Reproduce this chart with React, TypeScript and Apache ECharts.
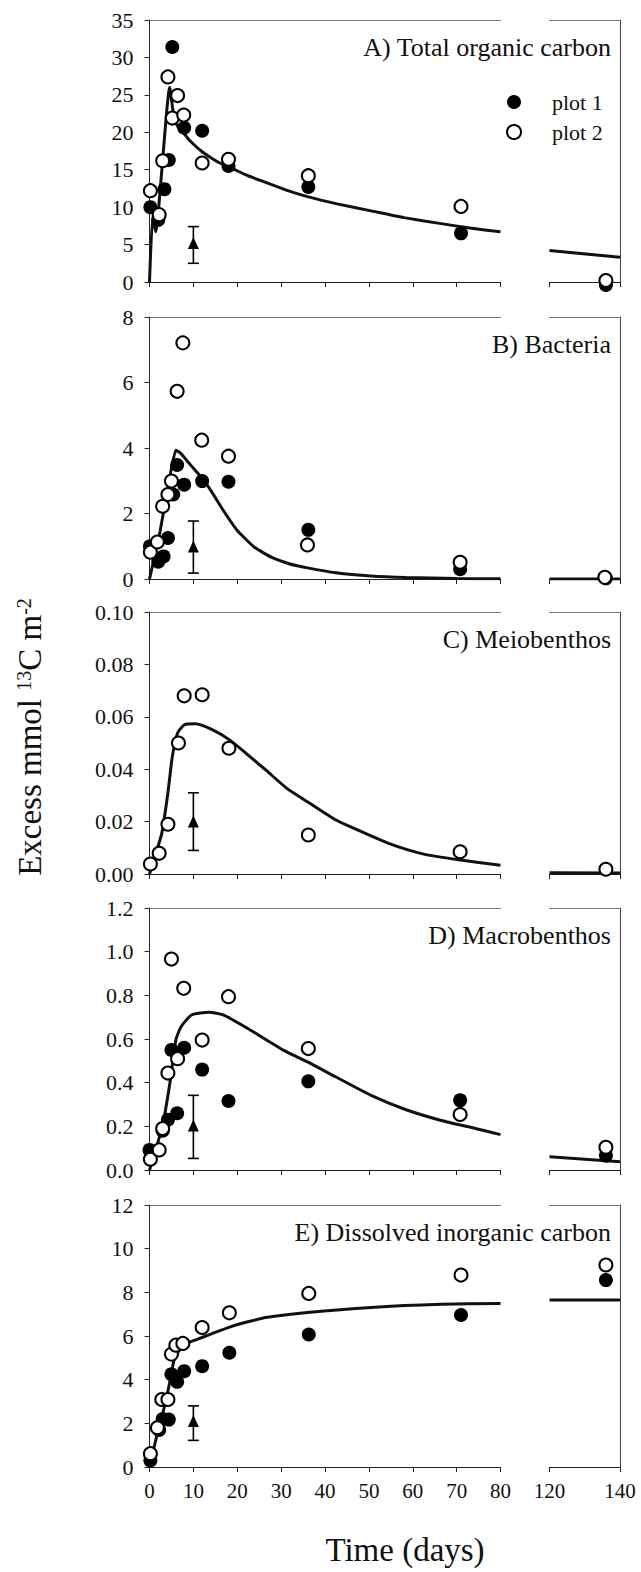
import React, { useEffect, useRef } from "react";
import * as echarts from "echarts";

const FONT = '"Liberation Serif", "Times New Roman", serif';
type Pt = [number, number];

// ---- A) Total organic carbon ----
const tocPlot1: Pt[] = [[0.2, 10.0], [2.0, 8.3], [3.4, 12.4], [4.4, 16.3], [5.2, 31.4], [7.9, 20.6], [12, 20.2], [18, 15.5], [36.2, 12.7], [71, 6.5], [136, -0.4]];
const tocPlot2: Pt[] = [[0.2, 12.2], [2.2, 9.0], [3.0, 16.2], [4.2, 27.4], [5.2, 21.9], [6.4, 24.9], [7.8, 22.3], [12, 15.9], [18, 16.4], [36.2, 14.2], [71, 10.1], [136, 0.2]];
const tocModel: Pt[] = [[0, 0], [0.7, 8.7], [1.4, 6.7], [4.6, 26.0], [5.6, 21.9], [6.5, 20.7], [7.9, 19.8], [9, 19.0], [10.4, 18.2], [12, 17.4], [14, 16.6], [16, 15.9], [18.4, 15.3], [22, 14.3], [26.5, 13.3], [31, 12.3], [36, 11.4], [43, 10.4], [50.5, 9.5], [58, 8.6], [66.5, 7.8], [73, 7.2], [80, 6.7]];
const tocModelLate: Pt[] = [[120, 4.2], [140, 3.3]];
const tocMean = [10, 5.2, 2.5, 7.4]; // day, mean, low, high

// ---- B) Bacteria ----
const bactPlot1: Pt[] = [[0.1, 1.0], [2.0, 0.53], [3.2, 0.69], [4.2, 1.25], [5.4, 2.58], [6.3, 3.48], [7.9, 2.88], [12, 2.99], [18, 2.97], [36.2, 1.5], [70.8, 0.3], [136, 0.02]];
const bactPlot2: Pt[] = [[0.2, 0.82], [1.8, 1.13], [3.0, 2.22], [4.2, 2.58], [5.0, 2.99], [6.3, 5.73], [7.6, 7.21], [11.9, 4.24], [18, 3.75], [36, 1.04], [70.8, 0.51], [135.7, 0.05]];
const bactModel: Pt[] = [[0, 0], [2.4, 1.45], [4.8, 3.24], [6.0, 3.93], [7, 3.85], [8.5, 3.62], [10.4, 3.32], [12, 3.08], [14, 2.7], [16.8, 2.1], [20, 1.48], [24, 0.96], [28, 0.65], [32, 0.46], [36, 0.34], [42.5, 0.19], [50.5, 0.09], [58.5, 0.045], [70, 0.015], [80, 0.005]];
const bactModelLate: Pt[] = [[120, 0.0], [140, 0.0]];
const bactMean = [10, 0.99, 0.18, 1.77];

// ---- C) Meiobenthos ----
const meioPlot1: Pt[] = [];
const meioPlot2: Pt[] = [[0.2, 0.0038], [2.2, 0.0079], [4.2, 0.019], [6.6, 0.05], [7.9, 0.068], [12, 0.0684], [18.1, 0.048], [36.2, 0.0149], [70.8, 0.0085], [136, 0.0018]];
const meioModel: Pt[] = [[0, 0], [1.2, 0.0066], [2.8, 0.0155], [4.2, 0.031], [5.2, 0.0448], [6.4, 0.0538], [8, 0.057], [10.4, 0.0573], [14.4, 0.055], [18.4, 0.051], [22.4, 0.0455], [26.5, 0.0397], [31.3, 0.0327], [36, 0.0276], [42.5, 0.0206], [46.5, 0.0175], [54.5, 0.0117], [62.5, 0.0076], [70.5, 0.0054], [80, 0.0033]];
const meioModelLate: Pt[] = [[120, 0.0005], [140, 0.0004]];
const meioMean = [10, 0.02, 0.009, 0.031];

// ---- D) Macrobenthos ----
const macroPlot1: Pt[] = [[0, 0.092], [3.0, 0.18], [4.2, 0.23], [5.0, 0.55], [6.3, 0.26], [7.9, 0.56], [12, 0.46], [18, 0.316], [36.2, 0.406], [70.8, 0.319], [136, 0.066]];
const macroPlot2: Pt[] = [[0.2, 0.049], [2.2, 0.092], [3.0, 0.19], [4.2, 0.444], [5.0, 0.966], [6.4, 0.51], [7.8, 0.832], [12, 0.595], [18, 0.794], [36.2, 0.556], [70.8, 0.254], [136, 0.104]];
const macroModel: Pt[] = [[0, 0], [1.6, 0.104], [3.2, 0.227], [4.8, 0.418], [6, 0.595], [7.2, 0.656], [9.6, 0.71], [13.6, 0.722], [16.8, 0.71], [22.4, 0.648], [30.5, 0.549], [36, 0.495], [42.5, 0.426], [50.5, 0.342], [58.5, 0.276], [66.5, 0.227], [74.5, 0.189], [80, 0.162]];
const macroModelLate: Pt[] = [[120, 0.061], [140, 0.038]];
const macroMean = [10, 0.204, 0.053, 0.342];

// ---- E) Dissolved inorganic carbon ----
const dicPlot1: Pt[] = [[0.2, 0.3], [2.2, 1.7], [3.0, 2.2], [4.4, 2.17], [5.0, 4.25], [6.3, 3.9], [7.9, 4.39], [12, 4.62], [18.2, 5.23], [36.3, 6.07], [71, 6.96], [136, 8.56]];
const dicPlot2: Pt[] = [[0.2, 0.61], [1.8, 1.8], [2.8, 3.09], [4.2, 3.09], [5.0, 5.17], [6.0, 5.58], [7.6, 5.66], [12, 6.39], [18.2, 7.06], [36.3, 7.95], [71, 8.79], [136, 9.25]];
const dicModel: Pt[] = [[0, 0], [1.6, 1.38], [3.2, 2.6], [4.4, 3.67], [5.6, 4.89], [6.8, 5.35], [8, 5.63], [10.4, 5.81], [14.4, 6.12], [18.4, 6.42], [22.4, 6.65], [26.5, 6.85], [36, 7.08], [50.5, 7.31], [66.5, 7.45], [80, 7.49]];
const dicModelLate: Pt[] = [[120, 7.65], [140, 7.65]];
const dicMean = [10, 2.11, 1.22, 2.8];

const titles = ["A) Total organic carbon", "B) Bacteria", "C) Meiobenthos", "D) Macrobenthos", "E) Dissolved inorganic carbon"];
const yMax = [35, 8, 0.1, 1.2, 12];
const yStep = [5, 2, 0.02, 0.2, 2];
const yDecimals = [0, 0, 2, 1, 0];
const xTicksEarly = [0, 80, 10];
const xTicksLate = [120, 140, 20];

const panels = [
  { p1: tocPlot1, p2: tocPlot2, m: tocModel, ml: tocModelLate, mean: tocMean, smooth: 0.15 },
  { p1: bactPlot1, p2: bactPlot2, m: bactModel, ml: bactModelLate, mean: bactMean, smooth: 0.15 },
  { p1: meioPlot1, p2: meioPlot2, m: meioModel, ml: meioModelLate, mean: meioMean, smooth: 0.2 },
  { p1: macroPlot1, p2: macroPlot2, m: macroModel, ml: macroModelLate, mean: macroMean, smooth: 0.2 },
  { p1: dicPlot1, p2: dicPlot2, m: dicModel, ml: dicModelLate, mean: dicMean, smooth: 0.2 },
];

// layout
const TOPS = [20, 317, 612, 908, 1205];
const H = 262;
const LX = 149.5, LW = 351, RX = 549.5, RW = 70.5;

function buildOption() {
  const grid: any[] = [];
  const xAxis: any[] = [];
  const yAxis: any[] = [];
  const series: any[] = [];
  const graphic: any[] = [];
  const ink = "#000";

  panels.forEach((pd, i) => {
    const top = TOPS[i];
    const last = i === panels.length - 1;
    const gL = grid.length;
    grid.push({ left: LX, top, width: LW, height: H });
    const gR = grid.length;
    grid.push({ left: RX, top, width: RW, height: H });

    const mkX = (g: number, rng: number[], showLabel: boolean) => {
      const idx = xAxis.length;
      xAxis.push({
        gridIndex: g, type: "value", min: rng[0], max: rng[1], interval: rng[2], position: "bottom",
        axisLine: { show: true, onZero: false, lineStyle: { color: "#222", width: 1 } },
        axisTick: { show: true, length: 5, lineStyle: { color: "#222" } },
        axisLabel: { show: showLabel, fontFamily: FONT, fontSize: 21, color: "#111", margin: 13 },
        splitLine: { show: false },
      });
      xAxis.push({
        gridIndex: g, type: "value", min: rng[0], max: rng[1], position: "top",
        axisLine: { show: true, onZero: false, lineStyle: { color: "#777", width: 1 } },
        axisTick: { show: false }, axisLabel: { show: false }, splitLine: { show: false },
      });
      return idx;
    };
    const xL = mkX(gL, xTicksEarly, last);
    const xR = mkX(gR, xTicksLate, last);

    const yL = yAxis.length;
    yAxis.push({
      gridIndex: gL, type: "value", min: 0, max: yMax[i], interval: yStep[i], position: "left",
      axisLine: { show: true, onZero: false, lineStyle: { color: "#222", width: 1 } },
      axisTick: { show: true, length: 5, lineStyle: { color: "#222" } },
      axisLabel: {
        fontFamily: FONT, fontSize: 22, color: "#111", margin: 16,
        formatter: (v: number) => v.toFixed(yDecimals[i]),
      },
      splitLine: { show: false },
    });
    const yR = yAxis.length;
    yAxis.push({
      gridIndex: gR, type: "value", min: 0, max: yMax[i], interval: yStep[i], position: "right",
      axisLine: { show: true, onZero: false, lineStyle: { color: "#444", width: 1 } },
      axisTick: { show: false }, axisLabel: { show: false }, splitLine: { show: false },
    });

    const early = (d: Pt[]) => d.filter((p) => p[0] <= 100);
    const late = (d: Pt[]) => d.filter((p) => p[0] > 100);

    const lineStyle = { color: "#111", width: 3 };
    series.push({ type: "line", xAxisIndex: xL, yAxisIndex: yL, data: pd.m, showSymbol: false, symbol: "none", lineStyle, z: 2, smooth: pd.smooth });
    series.push({ type: "line", xAxisIndex: xR, yAxisIndex: yR, data: pd.ml, showSymbol: false, symbol: "none", lineStyle, z: 2 });

    const s1 = { type: "scatter", name: "plot 1", symbol: "circle", symbolSize: 14, itemStyle: { color: ink, opacity: 1 }, z: 3, clip: false };
    const s2 = { type: "scatter", name: "plot 2", symbol: "circle", symbolSize: 13, itemStyle: { color: "#fff", borderColor: ink, borderWidth: 2, opacity: 1 }, z: 4, clip: false };
    series.push({ ...s1, xAxisIndex: xL, yAxisIndex: yL, data: early(pd.p1) });
    series.push({ ...s1, xAxisIndex: xR, yAxisIndex: yR, data: late(pd.p1) });
    series.push({ ...s2, xAxisIndex: xL, yAxisIndex: yL, data: early(pd.p2) });
    series.push({ ...s2, xAxisIndex: xR, yAxisIndex: yR, data: late(pd.p2) });

    // mean +/- error bar
    series.push({
      type: "custom", xAxisIndex: xL, yAxisIndex: yL, z: 3,
      data: [[pd.mean[0], pd.mean[2], pd.mean[3]]],
      encode: { x: 0, y: [1, 2] },
      renderItem: (params: any, api: any) => {
        const x = api.value(0);
        const lo = api.coord([x, api.value(1)]);
        const hi = api.coord([x, api.value(2)]);
        const w = 5.5;
        const st = { stroke: ink, lineWidth: 1.6 };
        return {
          type: "group",
          children: [
            { type: "line", shape: { x1: lo[0], y1: lo[1], x2: hi[0], y2: hi[1] }, style: st },
            { type: "line", shape: { x1: lo[0] - w, y1: lo[1], x2: lo[0] + w, y2: lo[1] }, style: st },
            { type: "line", shape: { x1: hi[0] - w, y1: hi[1], x2: hi[0] + w, y2: hi[1] }, style: st },
          ],
        };
      },
    });
    series.push({
      type: "scatter", xAxisIndex: xL, yAxisIndex: yL, z: 5, symbol: "triangle", symbolSize: [11, 12],
      itemStyle: { color: ink, opacity: 1 }, data: [[pd.mean[0], pd.mean[1]]],
    });

    graphic.push({
      type: "text", x: 611, y: top + 27,
      style: { text: titles[i], font: `26px ${FONT}`, fill: "#111", textAlign: "right", textVerticalAlign: "middle" },
    });
  });

  graphic.push({
    type: "text", x: 405, y: 1550,
    style: { text: "Time (days)", font: `33px ${FONT}`, fill: "#111", textAlign: "center", textVerticalAlign: "middle" },
  });
  graphic.push({
    type: "text", x: 30, y: 737, rotation: Math.PI / 2,
    style: {
      text: "Excess mmol {sup|13}C m{sup|-2}",
      font: `33px ${FONT}`, fill: "#111", textAlign: "center", textVerticalAlign: "middle",
      rich: {
        sup: { fontSize: 20, fontFamily: FONT, fill: "#111", verticalAlign: "top", lineHeight: 33 },
      },
    },
  });

  return {
    animation: false,
    backgroundColor: "#fff",
    textStyle: { fontFamily: FONT },
    grid, xAxis, yAxis, series, graphic,
    legend: {
      data: ["plot 1", "plot 2"], orient: "vertical", left: 501, top: 86,
      itemWidth: 14, itemHeight: 14, itemGap: 8, selectedMode: false,
      textStyle: { fontFamily: FONT, fontSize: 22, color: "#111", padding: [0, 0, 0, 26], lineHeight: 22 },
    },
  };
}

export default function App() {
  const ref = useRef<HTMLDivElement>(null);
  useEffect(() => {
    if (!ref.current) return;
    const chart = echarts.init(ref.current, null, { renderer: "svg" });
    chart.setOption(buildOption() as any);
    return () => chart.dispose();
  }, []);
  return (
    <div
      ref={ref}
      style={{ position: "fixed", left: 0, top: 0, width: 641, height: 1572, background: "#fff" }}
    />
  );
}
